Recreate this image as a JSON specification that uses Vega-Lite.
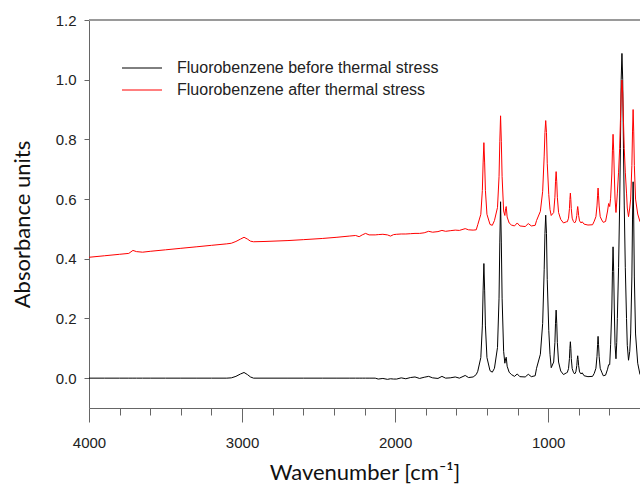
{
  "$schema": "https://vega.github.io/schema/vega-lite/v6.json",
  "width": 551,
  "height": 388,
  "autosize": {"type": "none"},
  "padding": {"left": 89, "top": 20, "right": 0, "bottom": 78},
  "background": "white",
  "config": {
    "view": {"stroke": null},
    "axis": {
      "labelFont": "Liberation Sans",
      "labelFontSize": 15,
      "labelColor": "#222",
      "titleFont": "Lato",
      "titleFontSize": 22,
      "titleFontWeight": "normal",
      "titleColor": "#111",
      "domainColor": "#666",
      "tickColor": "#666",
      "grid": false
    },
    "legend": {
      "orient": "none",
      "legendX": 45,
      "legendY": 40,
      "symbolType": "M-4,0H4",
      "symbolSize": 100,
      "symbolStrokeWidth": 1,
      "labelFont": "Liberation Sans",
      "labelFontSize": 16,
      "labelColor": "#222",
      "labelOffset": 27,
      "labelLimit": 500,
      "rowPadding": 6,
      "title": null
    }
  },
  "datasets": {
    "spec": [
      {"wn": 4000, "b": 0, "r": 0.405},
      {"wn": 3900, "b": 0, "r": 0.41},
      {"wn": 3800, "b": 0, "r": 0.415},
      {"wn": 3740, "b": 0, "r": 0.418},
      {"wn": 3713, "b": 0, "r": 0.428},
      {"wn": 3690, "b": 0, "r": 0.424},
      {"wn": 3650, "b": 0, "r": 0.422},
      {"wn": 3600, "b": 0, "r": 0.425},
      {"wn": 3500, "b": 0, "r": 0.43},
      {"wn": 3400, "b": 0, "r": 0.435},
      {"wn": 3300, "b": 0, "r": 0.44},
      {"wn": 3200, "b": 0, "r": 0.445},
      {"wn": 3100, "b": 0, "r": 0.45},
      {"wn": 3070, "b": 0.001, "r": 0.452},
      {"wn": 3040, "b": 0.006, "r": 0.458},
      {"wn": 3010, "b": 0.014, "r": 0.466},
      {"wn": 2987, "b": 0.019, "r": 0.472},
      {"wn": 2965, "b": 0.012, "r": 0.466},
      {"wn": 2945, "b": 0.004, "r": 0.459},
      {"wn": 2925, "b": 0, "r": 0.457},
      {"wn": 2850, "b": 0, "r": 0.458},
      {"wn": 2700, "b": 0, "r": 0.461},
      {"wn": 2600, "b": 0, "r": 0.464},
      {"wn": 2476, "b": 0, "r": 0.468},
      {"wn": 2380, "b": 0, "r": 0.472},
      {"wn": 2300, "b": 0, "r": 0.476},
      {"wn": 2258, "b": 0, "r": 0.478},
      {"wn": 2235, "b": 0, "r": 0.474},
      {"wn": 2215, "b": 0, "r": 0.48},
      {"wn": 2193, "b": 0, "r": 0.485},
      {"wn": 2170, "b": 0, "r": 0.48},
      {"wn": 2130, "b": 0, "r": 0.48},
      {"wn": 2110, "b": -0.003, "r": 0.481},
      {"wn": 2080, "b": -0.001, "r": 0.482},
      {"wn": 2050, "b": -0.004, "r": 0.48},
      {"wn": 2030, "b": -0.002, "r": 0.476},
      {"wn": 2010, "b": -0.003, "r": 0.481},
      {"wn": 1990, "b": -0.003, "r": 0.482},
      {"wn": 1960, "b": 0.001, "r": 0.483},
      {"wn": 1930, "b": -0.002, "r": 0.483},
      {"wn": 1900, "b": 0.002, "r": 0.484},
      {"wn": 1870, "b": 0.004, "r": 0.485},
      {"wn": 1840, "b": -0.001, "r": 0.485},
      {"wn": 1810, "b": 0.003, "r": 0.487},
      {"wn": 1781, "b": 0.006, "r": 0.492},
      {"wn": 1755, "b": 0.001, "r": 0.489},
      {"wn": 1720, "b": -0.001, "r": 0.491},
      {"wn": 1694, "b": 0.006, "r": 0.495},
      {"wn": 1670, "b": 0, "r": 0.492},
      {"wn": 1640, "b": 0.001, "r": 0.494},
      {"wn": 1607, "b": 0.004, "r": 0.496},
      {"wn": 1580, "b": 0, "r": 0.495},
      {"wn": 1542, "b": 0.009, "r": 0.501},
      {"wn": 1520, "b": 0.002, "r": 0.497},
      {"wn": 1490, "b": 0.004, "r": 0.496},
      {"wn": 1470, "b": 0.012, "r": 0.497},
      {"wn": 1460, "b": 0.023, "r": 0.514},
      {"wn": 1440, "b": 0.069, "r": 0.549},
      {"wn": 1430, "b": 0.175, "r": 0.629},
      {"wn": 1425, "b": 0.295, "r": 0.721},
      {"wn": 1420, "b": 0.384, "r": 0.789},
      {"wn": 1415, "b": 0.295, "r": 0.721},
      {"wn": 1410, "b": 0.175, "r": 0.629},
      {"wn": 1400, "b": 0.069, "r": 0.549},
      {"wn": 1380, "b": 0.025, "r": 0.515},
      {"wn": 1365, "b": 0.02, "r": 0.512},
      {"wn": 1351, "b": 0.033, "r": 0.528},
      {"wn": 1331, "b": 0.103, "r": 0.572},
      {"wn": 1321, "b": 0.268, "r": 0.675},
      {"wn": 1316, "b": 0.453, "r": 0.792},
      {"wn": 1311, "b": 0.591, "r": 0.879},
      {"wn": 1306, "b": 0.453, "r": 0.792},
      {"wn": 1301, "b": 0.268, "r": 0.675},
      {"wn": 1291, "b": 0.09, "r": 0.56},
      {"wn": 1283, "b": 0.05, "r": 0.545},
      {"wn": 1278, "b": 0.065, "r": 0.568},
      {"wn": 1274, "b": 0.07, "r": 0.575},
      {"wn": 1268, "b": 0.04, "r": 0.54},
      {"wn": 1255, "b": 0.02, "r": 0.52},
      {"wn": 1240, "b": 0.012, "r": 0.513},
      {"wn": 1220, "b": 0.006, "r": 0.51},
      {"wn": 1202, "b": 0.014, "r": 0.52},
      {"wn": 1185, "b": 0.005, "r": 0.51},
      {"wn": 1150, "b": 0.004, "r": 0.508},
      {"wn": 1130, "b": 0.013, "r": 0.518},
      {"wn": 1110, "b": 0.005, "r": 0.51},
      {"wn": 1085, "b": 0.008, "r": 0.512},
      {"wn": 1076, "b": 0.033, "r": 0.528},
      {"wn": 1051, "b": 0.08, "r": 0.559},
      {"wn": 1036, "b": 0.183, "r": 0.626},
      {"wn": 1026, "b": 0.363, "r": 0.744},
      {"wn": 1021, "b": 0.485, "r": 0.823},
      {"wn": 1016, "b": 0.546, "r": 0.863},
      {"wn": 1011, "b": 0.485, "r": 0.823},
      {"wn": 1006, "b": 0.33, "r": 0.72},
      {"wn": 996, "b": 0.16, "r": 0.615},
      {"wn": 988, "b": 0.08, "r": 0.565},
      {"wn": 980, "b": 0.035, "r": 0.545},
      {"wn": 964, "b": 0.054, "r": 0.555},
      {"wn": 956, "b": 0.119, "r": 0.606},
      {"wn": 952, "b": 0.184, "r": 0.658},
      {"wn": 948, "b": 0.228, "r": 0.692},
      {"wn": 944, "b": 0.184, "r": 0.658},
      {"wn": 940, "b": 0.119, "r": 0.606},
      {"wn": 932, "b": 0.054, "r": 0.555},
      {"wn": 918, "b": 0.024, "r": 0.532},
      {"wn": 900, "b": 0.012, "r": 0.52},
      {"wn": 880, "b": 0.018, "r": 0.524},
      {"wn": 875, "b": 0.019, "r": 0.524},
      {"wn": 867, "b": 0.032, "r": 0.536},
      {"wn": 861, "b": 0.066, "r": 0.568},
      {"wn": 858, "b": 0.1, "r": 0.599},
      {"wn": 855, "b": 0.122, "r": 0.62},
      {"wn": 852, "b": 0.1, "r": 0.599},
      {"wn": 849, "b": 0.066, "r": 0.568},
      {"wn": 843, "b": 0.032, "r": 0.536},
      {"wn": 835, "b": 0.02, "r": 0.525},
      {"wn": 827, "b": 0.014, "r": 0.52},
      {"wn": 819, "b": 0.021, "r": 0.527},
      {"wn": 813, "b": 0.042, "r": 0.545},
      {"wn": 810, "b": 0.062, "r": 0.563},
      {"wn": 807, "b": 0.075, "r": 0.575},
      {"wn": 804, "b": 0.062, "r": 0.563},
      {"wn": 801, "b": 0.042, "r": 0.545},
      {"wn": 795, "b": 0.021, "r": 0.527},
      {"wn": 785, "b": 0.014, "r": 0.52},
      {"wn": 778, "b": 0.018, "r": 0.524},
      {"wn": 765, "b": 0.008, "r": 0.516},
      {"wn": 740, "b": 0.005, "r": 0.513},
      {"wn": 710, "b": 0.006, "r": 0.514},
      {"wn": 699, "b": 0.016, "r": 0.526},
      {"wn": 688, "b": 0.033, "r": 0.541},
      {"wn": 681, "b": 0.073, "r": 0.577},
      {"wn": 677, "b": 0.113, "r": 0.613},
      {"wn": 674, "b": 0.14, "r": 0.637},
      {"wn": 671, "b": 0.113, "r": 0.613},
      {"wn": 667, "b": 0.073, "r": 0.577},
      {"wn": 660, "b": 0.033, "r": 0.541},
      {"wn": 650, "b": 0.02, "r": 0.53},
      {"wn": 640, "b": 0.008, "r": 0.522},
      {"wn": 625, "b": 0.01, "r": 0.525},
      {"wn": 612, "b": 0.03, "r": 0.56},
      {"wn": 605, "b": 0.045, "r": 0.585},
      {"wn": 598, "b": 0.045, "r": 0.575},
      {"wn": 592, "b": 0.112, "r": 0.603},
      {"wn": 584, "b": 0.235, "r": 0.684},
      {"wn": 580, "b": 0.358, "r": 0.764},
      {"wn": 576, "b": 0.44, "r": 0.817},
      {"wn": 572, "b": 0.358, "r": 0.764},
      {"wn": 568, "b": 0.235, "r": 0.684},
      {"wn": 563, "b": 0.11, "r": 0.6},
      {"wn": 557, "b": 0.065, "r": 0.555},
      {"wn": 552, "b": 0.12, "r": 0.59},
      {"wn": 548, "b": 0.2, "r": 0.62},
      {"wn": 540, "b": 0.37, "r": 0.69},
      {"wn": 533, "b": 0.58, "r": 0.77},
      {"wn": 528, "b": 0.77, "r": 0.86},
      {"wn": 523, "b": 1.0, "r": 0.955},
      {"wn": 518, "b": 1.088, "r": 0.999},
      {"wn": 513, "b": 1.0, "r": 0.955},
      {"wn": 508, "b": 0.77, "r": 0.86},
      {"wn": 503, "b": 0.58, "r": 0.77},
      {"wn": 496, "b": 0.37, "r": 0.69},
      {"wn": 488, "b": 0.2, "r": 0.62},
      {"wn": 483, "b": 0.11, "r": 0.57},
      {"wn": 475, "b": 0.06, "r": 0.541},
      {"wn": 467, "b": 0.09, "r": 0.57},
      {"wn": 461, "b": 0.148, "r": 0.6},
      {"wn": 453, "b": 0.339, "r": 0.713},
      {"wn": 449, "b": 0.53, "r": 0.825},
      {"wn": 445, "b": 0.658, "r": 0.9},
      {"wn": 441, "b": 0.53, "r": 0.825},
      {"wn": 437, "b": 0.339, "r": 0.713},
      {"wn": 429, "b": 0.148, "r": 0.6},
      {"wn": 415, "b": 0.05, "r": 0.55},
      {"wn": 400, "b": 0.012, "r": 0.524}
    ]
  },
  "data": {"name": "spec"},
  "layer": [
    {
      "mark": {"type": "line", "strokeWidth": 1, "interpolate": "linear"},
      "encoding": {
        "x": {
          "field": "wn",
          "type": "quantitative",
          "scale": {"domain": [400, 4000], "reverse": true, "nice": false, "zero": false},
          "axis": {
            "title": "Wavenumber [cm⁻¹]",
            "values": [4000, 3800, 3600, 3400, 3200, 3000, 2800, 2600, 2400, 2200, 2000, 1800, 1600, 1400, 1200, 1000, 800, 600, 400],
            "tickCount": 40,
            "format": "d",
            "labelExpr": "datum.value % 1000 === 0 ? datum.label : ''",
            "labelOverlap": false,
            "labelFlush": false,
            "tickSize": {"condition": {"test": "datum.value % 1000 === 0", "value": 14}, "value": 7},
            "labelPadding": 13,
            "titlePadding": 12
          }
        },
        "y": {
          "field": "b",
          "type": "quantitative",
          "scale": {"domain": [-0.1, 1.2], "nice": false, "zero": false},
          "axis": {
            "title": "Absorbance units",
            "values": [0, 0.2, 0.4, 0.6, 0.8, 1.0, 1.2],
            "format": ".1f",
            "tickSize": 5,
            "labelPadding": 8,
            "titleX": -67,
            "titleY": 204,
            "titleAngle": -90,
            "titleAlign": "center",
            "titleBaseline": "middle"
          }
        },
        "color": {
          "datum": "Fluorobenzene before thermal stress",
          "scale": {
            "domain": ["Fluorobenzene before thermal stress", "Fluorobenzene after thermal stress"],
            "range": ["#000000", "#ff0000"]
          }
        }
      }
    },
    {
      "mark": {"type": "line", "strokeWidth": 1, "interpolate": "linear"},
      "encoding": {
        "x": {"field": "wn", "type": "quantitative"},
        "y": {"field": "r", "type": "quantitative"},
        "color": {"datum": "Fluorobenzene after thermal stress"}
      }
    },
    {
      "mark": {"type": "rule", "color": "#999", "strokeWidth": 1},
      "encoding": {
        "y": {"datum": 1.2, "type": "quantitative"}
      }
    }
  ]
}
